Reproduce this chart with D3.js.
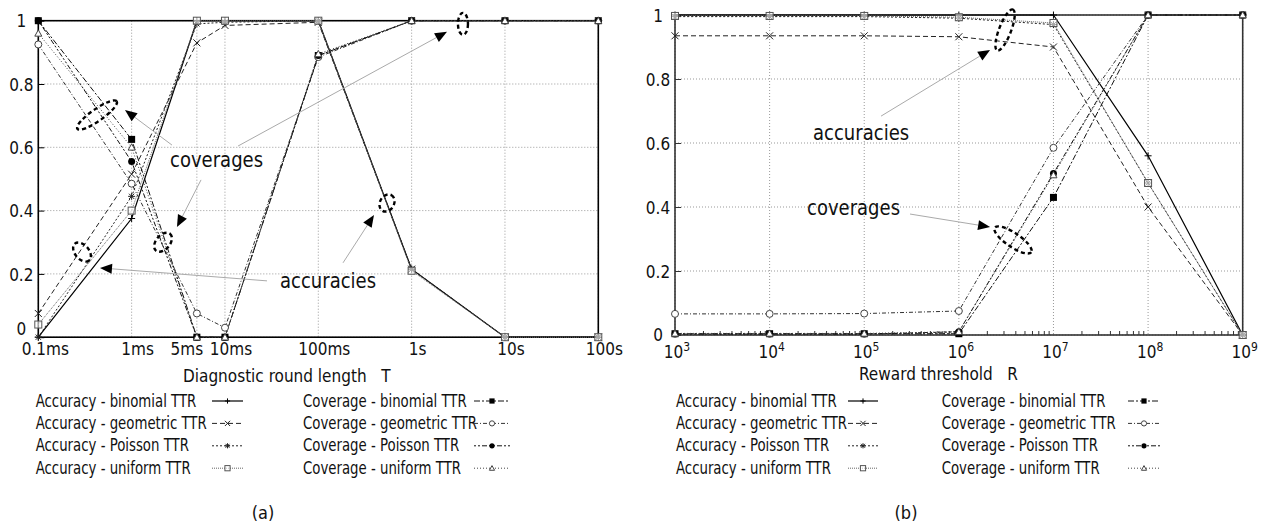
<!DOCTYPE html>
<html>
<head>
<meta charset="utf-8">
<script src="https://cdn.jsdelivr.net/npm/d3@7"></script>
<style>
  body { margin: 0; background: #fff; }
  svg { display: block; }
  text { font-family: "Liberation Sans Narrow", "DejaVu Sans Condensed", "Open Sans", sans-serif; fill: #111; }
</style>
</head>
<body>
<svg width="1268" height="526"></svg>
<script>
// ---- panel (a): diagnostic round length ----
const roundMs = [0.1, 1, 5, 10, 100, 1000, 10000, 100000];
const roundLabels = ["0.1ms", "1ms", "5ms", "10ms", "100ms", "1s", "10s", "100s"];

const accBinomialA  = [0, 0.375, 1, 1, 1, 0.215, 0, 0];
const accGeometricA = [0.075, 0.515, 0.93, 0.985, 0.995, 0.215, 0, 0];
const accPoissonA   = [0, 0.445, 0.99, 0.995, 1, 0.215, 0, 0];
const accUniformA   = [0.04, 0.4, 1, 1, 1, 0.21, 0, 0];
const covBinomialA  = [1, 0.625, 0, 0, 0.89, 1, 1, 1];
const covGeometricA = [0.925, 0.485, 0.075, 0.03, 0.885, 1, 1, 1];
const covPoissonA   = [1, 0.555, 0, 0, 0.89, 1, 1, 1];
const covUniformA   = [0.96, 0.6, 0, 0, 0.895, 1, 1, 1];

// ---- panel (b): reward threshold ----
const thresholds = [1e3, 1e4, 1e5, 1e6, 1e7, 1e8, 1e9];
const thresholdExp = ["3", "4", "5", "6", "7", "8", "9"];

const accBinomialB  = [1, 1, 1, 1, 1, 0.56, 0];
const accGeometricB = [0.935, 0.935, 0.935, 0.932, 0.9, 0.4, 0];
const accPoissonB   = [0.995, 0.995, 0.995, 0.99, 0.97, 0.475, 0];
const accUniformB   = [0.997, 0.997, 0.997, 0.993, 0.975, 0.475, 0];
const covBinomialB  = [0.004, 0.004, 0.004, 0.004, 0.43, 1, 1];
const covGeometricB = [0.066, 0.066, 0.067, 0.075, 0.585, 1, 1];
const covPoissonB   = [0.003, 0.003, 0.003, 0.01, 0.505, 1, 1];
const covUniformB   = [0.005, 0.005, 0.005, 0.01, 0.5, 1, 1];

const yTicks = [0, 0.2, 0.4, 0.6, 0.8, 1];
const yTickLabels = ["0", "0.2", "0.4", "0.6", "0.8", "1"];

const seriesNames = [
  "Accuracy - binomial TTR", "Accuracy - geometric TTR", "Accuracy - Poisson TTR", "Accuracy - uniform TTR",
  "Coverage - binomial TTR", "Coverage - geometric TTR", "Coverage - Poisson TTR", "Coverage - uniform TTR"
];

// line / marker styles for the 8 series (same order as names)
const styles = [
  { dash: null,          marker: "plus",     color: "#000", width: 1.2 },
  { dash: "5,3",         marker: "cross",    color: "#222", width: 1 },
  { dash: "2,2",         marker: "star",     color: "#222", width: 1 },
  { dash: "1,1",         marker: "box",      color: "#666", width: 1 },
  { dash: "6,2,2,2",     marker: "fbox",     color: "#111", width: 1 },
  { dash: "4,2,1,2",     marker: "circle",   color: "#333", width: 1 },
  { dash: "2,2,2,2,5,2", marker: "fcircle",  color: "#111", width: 1 },
  { dash: "1,2",         marker: "triangle", color: "#444", width: 1 }
];

const svg = d3.select("svg");

// squeeze a text horizontally (the original uses a narrow font)
function squeeze(sel, f) {
  sel.each(function () {
    const w = this.getComputedTextLength();
    d3.select(this).attr("textLength", w * f).attr("lengthAdjust", "spacingAndGlyphs");
  });
  return sel;
}

function drawMarker(g, type, x, y, s) {
  const k = s || 3.5;
  const m = g.append("g").attr("transform", `translate(${x},${y})`);
  if (type === "plus") {
    m.append("path").attr("d", `M${-k},0H${k}M0,${-k}V${k}`).attr("stroke", "#000").attr("stroke-width", 1);
  } else if (type === "cross") {
    m.append("path").attr("d", `M${-k},${-k}L${k},${k}M${-k},${k}L${k},${-k}`).attr("stroke", "#222").attr("stroke-width", 1);
  } else if (type === "star") {
    m.append("path").attr("d", `M${-k},0H${k}M0,${-k}V${k}M${-k*0.75},${-k*0.75}L${k*0.75},${k*0.75}M${-k*0.75},${k*0.75}L${k*0.75},${-k*0.75}`)
      .attr("stroke", "#222").attr("stroke-width", 1);
  } else if (type === "box") {
    m.append("rect").attr("x", -k).attr("y", -k).attr("width", 2*k).attr("height", 2*k)
      .attr("fill", "#fff").attr("fill-opacity", 0.6).attr("stroke", "#555").attr("stroke-width", 1);
  } else if (type === "fbox") {
    m.append("rect").attr("x", -k).attr("y", -k).attr("width", 2*k).attr("height", 2*k).attr("fill", "#000");
  } else if (type === "circle") {
    m.append("circle").attr("r", k).attr("fill", "#fff").attr("stroke", "#444").attr("stroke-width", 1);
  } else if (type === "fcircle") {
    m.append("circle").attr("r", k).attr("fill", "#000");
  } else if (type === "triangle") {
    m.append("path").attr("d", `M0,${-k}L${k},${k*0.8}L${-k},${k*0.8}Z`)
      .attr("fill", "#fff").attr("stroke", "#444").attr("stroke-width", 1);
  }
}

function drawPanel(cfg) {
  const x = d3.scaleLog().domain(cfg.xDomain).range([cfg.left, cfg.right]);
  const y = d3.scaleLinear().domain([0, 1]).range([cfg.bottom, cfg.top]);
  const g = svg.append("g");

  // grid
  g.selectAll(".gx").data(cfg.xs).enter().append("line")
    .attr("x1", d => x(d)).attr("x2", d => x(d)).attr("y1", cfg.top).attr("y2", cfg.bottom)
    .attr("stroke", "#999").attr("stroke-dasharray", "1,2").attr("stroke-width", 1);
  g.selectAll(".gy").data(yTicks).enter().append("line")
    .attr("x1", cfg.left).attr("x2", cfg.right).attr("y1", d => y(d)).attr("y2", d => y(d))
    .attr("stroke", "#999").attr("stroke-dasharray", "1,2").attr("stroke-width", 1);

  // y axis with inner ticks
  const yAxis = g.append("g").attr("transform", `translate(${cfg.left},0)`)
    .call(d3.axisLeft(y).tickValues(yTicks).tickSizeInner(-6).tickSizeOuter(0)
      .tickFormat((d, i) => yTickLabels[i]));
  yAxis.select(".domain").remove();
  yAxis.selectAll("line").attr("stroke", cfg.axisColor);
  yAxis.selectAll("text").attr("x", -17).attr("text-anchor", "middle")
    .attr("dy", d => (d === 0 ? cfg.zeroDy : "0.36em"))
    .style("font-size", "17px").style("font-family", null);

  // minor ticks on x (log panel b)
  if (cfg.minor) {
    const minors = [];
    cfg.xs.slice(0, -1).forEach(v => { for (let m = 2; m <= 9; m++) minors.push(v * m); });
    g.selectAll(".mt").data(minors).enter().append("line")
      .attr("x1", d => x(d)).attr("x2", d => x(d)).attr("y1", cfg.bottom).attr("y2", cfg.bottom - 4)
      .attr("stroke", cfg.axisColor);
  }

  // frame
  g.append("rect").attr("x", cfg.left).attr("y", cfg.top)
    .attr("width", cfg.right - cfg.left).attr("height", cfg.bottom - cfg.top)
    .attr("fill", "none").attr("stroke", cfg.axisColor).attr("stroke-width", 1.6);

  // series
  const line = d3.line().x(d => x(d[0])).y(d => y(d[1]));
  cfg.series.forEach((vals, i) => {
    const st = styles[i];
    const pts = cfg.xs.map((v, j) => [v, vals[j]]);
    g.append("path").datum(pts).attr("d", line).attr("fill", "none")
      .attr("stroke", st.color).attr("stroke-width", st.width)
      .attr("stroke-dasharray", st.dash);
  });
  cfg.series.forEach((vals, i) => {
    cfg.xs.forEach((v, j) => drawMarker(g, styles[i].marker, x(v), y(vals[j]), 3.5));
  });

  // x tick labels
  cfg.xs.forEach((v, j) => {
    const t = g.append("text").attr("x", x(v) + cfg.labelDx(j)).attr("y", cfg.labelY)
      .attr("text-anchor", "middle").style("font-size", "17px");
    cfg.labelText(t, j);
  });

  // axis title
  g.append("text").attr("x", cfg.titleX).attr("y", cfg.titleY).style("font-size", "17px")
    .attr("xml:space", "preserve").text(cfg.title);

  // annotations
  cfg.notes.forEach(n => {
    squeeze(g.append("text").attr("x", x(n.at[0])).attr("y", y(n.at[1]))
      .style("font-size", "22px").text(n.text), 0.91);
  });
  cfg.arrows.forEach(a => {
    const x1 = x(a.from[0]), y1 = y(a.from[1]), x2 = x(a.to[0]), y2 = y(a.to[1]);
    const ang = Math.atan2(y2 - y1, x2 - x1);
    const L = 12, W = 5;
    const bx = x2 - L * Math.cos(ang), by = y2 - L * Math.sin(ang);
    g.append("line").attr("x1", x1).attr("y1", y1).attr("x2", bx).attr("y2", by)
      .attr("stroke", "#aaa").attr("stroke-width", 1);
    g.append("path").attr("d",
      `M${x2},${y2}L${bx + W * Math.sin(ang)},${by - W * Math.cos(ang)}L${bx - W * Math.sin(ang)},${by + W * Math.cos(ang)}Z`)
      .attr("fill", "#000");
  });
  cfg.rings.forEach(r => {
    g.append("ellipse").attr("cx", 0).attr("cy", 0).attr("rx", r.rx).attr("ry", r.ry)
      .attr("transform", `translate(${x(r.at[0])},${y(r.at[1])}) rotate(${r.rot})`)
      .attr("fill", "none").attr("stroke", "#000").attr("stroke-width", 2.4).attr("stroke-dasharray", "4,3");
  });

  // legend
  seriesNames.forEach((name, i) => {
    const col = i < 4 ? 0 : 1, row = i % 4;
    const by = 406.5 + row * 22.4;
    squeeze(g.append("text").attr("x", cfg.legText[col]).attr("y", by)
      .style("font-size", "17px").text(name), 0.87);
    const [s0, s1] = cfg.legLine[col];
    const st = styles[i];
    g.append("line").attr("x1", s0).attr("x2", s1).attr("y1", by - 5.5).attr("y2", by - 5.5)
      .attr("stroke", st.color).attr("stroke-width", st.width).attr("stroke-dasharray", st.dash);
    drawMarker(g, st.marker, (s0 + s1) / 2, by - 5.5, 2.6);
  });

  g.append("text").attr("x", cfg.capX).attr("y", 519).attr("text-anchor", "middle")
    .style("font-size", "18px").text(cfg.caption);
}

drawPanel({
  xDomain: [0.1, 100000], xs: roundMs,
  left: 38.3, right: 598.3, top: 20.7, bottom: 337.2,
  axisColor: "#000", minor: false, zeroDy: "-0.15em",
  series: [accBinomialA, accGeometricA, accPoissonA, accUniformA, covBinomialA, covGeometricA, covPoissonA, covUniformA],
  labelY: 355,
  labelDx: j => (j === 2 ? -10 : j === 0 ? 7 : 6),
  labelText: (t, j) => t.text(roundLabels[j]),
  title: "Diagnostic round length   T", titleX: 183, titleY: 381.5,
  notes: [{ text: "coverages", at: [2.58, 0.538] }, { text: "accuracies", at: [38.9, 0.155] }],
  arrows: [
    { from: [2.707, 0.607], to: [0.849, 0.718] },
    { from: [13.8, 0.604], to: [2393, 0.965] },
    { from: [5.54, 0.497], to: [3.06, 0.348] },
    { from: [28.2, 0.178], to: [0.458, 0.219] },
    { from: [184, 0.235], to: [395, 0.386] }
  ],
  rings: [
    { at: [0.426, 0.702], rx: 24, ry: 6, rot: -35 },
    { at: [3548, 0.99], rx: 5, ry: 11, rot: 0 },
    { at: [2.17, 0.30], rx: 11, ry: 7, rot: -50 },
    { at: [0.294, 0.269], rx: 11, ry: 7, rot: 50 },
    { at: [545, 0.424], rx: 9, ry: 7, rot: -60 }
  ],
  legText: [35.7, 303], legLine: [[212, 243], [474, 510]],
  capX: 263, caption: "(a)"
});

drawPanel({
  xDomain: [1e3, 1e9], xs: thresholds,
  left: 675, right: 1242.7, top: 15, bottom: 335,
  axisColor: "#333", minor: true, zeroDy: "0.3em",
  series: [accBinomialB, accGeometricB, accPoissonB, accUniformB, covBinomialB, covGeometricB, covPoissonB, covUniformB],
  labelY: 358,
  labelDx: j => 2,
  labelText: (t, j) => {
    t.append("tspan").text("10");
    t.append("tspan").attr("dy", -7).style("font-size", "12px").text(thresholdExp[j]);
  },
  title: "Reward threshold   R", titleX: 859, titleY: 380,
  notes: [{ text: "accuracies", at: [28770, 0.609] }, { text: "coverages", at: [24850, 0.375] }],
  arrows: [
    { from: [150600, 0.684], to: [2.138e6, 0.891] },
    { from: [304800, 0.378], to: [2.138e6, 0.3375] }
  ],
  rings: [
    { at: [3.08e6, 0.953], rx: 22, ry: 6, rot: -69 },
    { at: [3.74e6, 0.297], rx: 22, ry: 7, rot: 34 }
  ],
  legText: [676, 941.7], legLine: [[848, 878], [1128, 1160]],
  capX: 906, caption: "(b)"
});
</script>
</body>
</html>
